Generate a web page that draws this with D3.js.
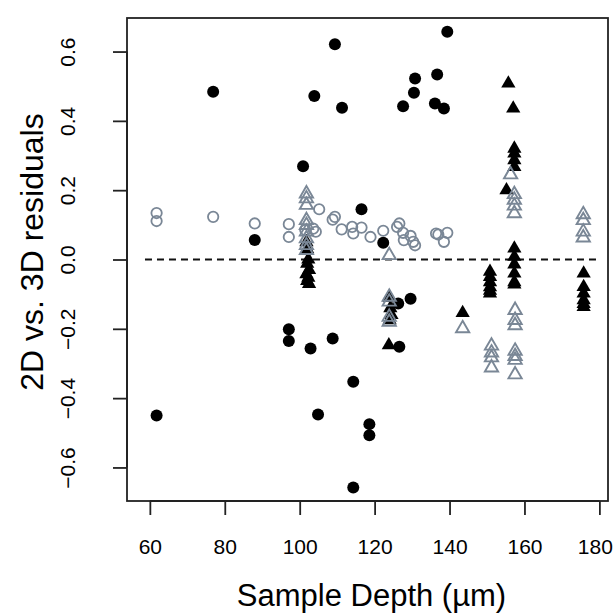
<!DOCTYPE html>
<html><head><meta charset="utf-8">
<script src="https://cdn.jsdelivr.net/npm/d3@7"></script>
<style>body{margin:0;background:#fff}svg{display:block}text{font-family:"Liberation Sans",Arial,sans-serif;fill:#000}</style>
</head><body>
<script>
// Filled black circles
const circ2x = [61.8,76.9,88.0,97.1,97.1,100.9,102.9,103.9,104.9,108.8,109.4,111.3,114.3,114.3,116.5,118.6,118.6,122.3,126.3,126.6,127.6,129.6,130.5,130.8,136.1,136.7,138.5,139.4];
const circ2y = [-0.45,0.484,0.056,-0.201,-0.235,0.269,-0.257,0.472,-0.447,-0.228,0.621,0.438,-0.353,-0.658,0.145,-0.475,-0.507,0.048,-0.127,-0.252,0.442,-0.113,0.481,0.522,0.450,0.534,0.436,0.657];
// Open gray circles
const circOx = [61.8,61.8,76.9,88.0,97.1,97.1,101.5,103.6,104.3,105.2,108.8,109.4,111.2,114.0,114.3,116.5,118.9,122.3,126.0,126.6,127.6,127.8,129.6,130.3,130.8,136.4,137.0,139.4,138.5];
const circOy = [0.134,0.111,0.123,0.104,0.102,0.065,0.085,0.089,0.080,0.145,0.115,0.123,0.087,0.094,0.075,0.092,0.065,0.083,0.094,0.104,0.077,0.056,0.068,0.051,0.041,0.075,0.072,0.077,0.051];
// Filled black triangles
const triFx = [101.8,102.0,102.3,102.0,102.5,101.8,102.3,102.0,102.5, 124.0,124.2,124.5,124.0,123.8, 143.5, 150.8,150.8,150.8,150.8,150.8,150.8, 155.7,157.0,157.3,157.3,157.3,157.3,155.2,157.3,157.3,157.3,157.3,157.3,157.3, 175.8,175.8,175.8,175.8,175.8,175.8];
const triFy = [0.05,0.03,0.0,-0.012,-0.03,-0.042,-0.052,-0.062,-0.07, -0.11,-0.14,-0.16,-0.175,-0.247, -0.154, -0.035,-0.05,-0.065,-0.08,-0.09,-0.098, 0.508,0.436,0.306,0.287,0.267,0.320,0.200,0.032,0.008,-0.014,-0.04,-0.065,-0.072, -0.04,-0.079,-0.098,-0.117,-0.128,-0.137];
// Open gray triangles
const triOx = [101.8,101.8,101.8,101.8,101.8,101.8,101.8,101.8,101.8, 123.9,123.9,123.9,123.9,123.9, 143.5, 151.2,151.2,151.2,151.2, 156.3,157.3,157.3,157.3,157.3, 157.5,157.5,157.5,157.5,157.5,157.5,157.5, 175.7,175.7,175.7,175.7];
const triOy = [0.19,0.176,0.157,0.113,0.099,0.080,0.061,0.041,0.027, 0.012,-0.108,-0.122,-0.166,-0.18, -0.199, -0.249,-0.269,-0.283,-0.312, 0.245,0.188,0.172,0.155,0.133, -0.146,-0.175,-0.19,-0.264,-0.279,-0.29,-0.332, 0.130,0.113,0.080,0.063];
const xTicks = [60,80,100,120,140,160,180];
const yTicks = [-0.6,-0.4,-0.2,0.0,0.2,0.4,0.6];
const xTitle = "Sample Depth (µm)";
const yTitle = "2D vs. 3D residuals";
const gray = "#7a8796";

const W=613,H=616;
const L=127,R=608,T=18,B=501;
const x = d3.scaleLinear().domain([53.9,182.3]).range([L,R]);
const y = d3.scaleLinear().domain([-0.6968,0.6968]).range([B,T]);
const svg = d3.select("body").append("svg").attr("width",W).attr("height",H);

svg.append("rect").attr("x",L).attr("y",T).attr("width",R-L).attr("height",B-T)
  .attr("fill","none").attr("stroke","#222").attr("stroke-width",1.8);

const xa = svg.append("g").attr("transform",`translate(0,${B})`)
  .call(d3.axisBottom(x).tickValues(xTicks).tickFormat(d3.format("d")).tickSize(14).tickPadding(24));
xa.select(".domain").attr("stroke","#222").attr("stroke-width",1.8).attr("d",`M${x(60)},0H${x(180)}`);
xa.selectAll(".tick line").attr("stroke","#222").attr("stroke-width",1.8);
xa.selectAll(".tick text").attr("font-size",21).attr("font-family","Liberation Sans, Arial, sans-serif").attr("fill","#111")
  .filter(d=>d===180).attr("text-anchor","end").attr("x",13);

const ya = svg.append("g").attr("transform",`translate(${L},0)`)
  .call(d3.axisLeft(y).tickValues(yTicks).tickFormat(d=>d3.format(".1f")(d).replace("-","\u2212")).tickSize(14));
ya.select(".domain").attr("stroke","#222").attr("stroke-width",1.8).attr("d",`M0,${y(-0.6)}V${y(0.6)}`);
ya.selectAll(".tick line").attr("stroke","#222").attr("stroke-width",1.8);
ya.selectAll(".tick text").attr("font-size",21).attr("font-family","Liberation Sans, Arial, sans-serif").attr("fill","#111")
  .attr("x",null).attr("dy",null).attr("text-anchor","middle")
  .attr("transform","translate(-52,0) rotate(-90)");

svg.append("text").attr("x",(L+R)/2+4).attr("y",606).attr("text-anchor","middle").attr("font-size",31).text(xTitle);
svg.append("text").attr("transform",`translate(43,252) rotate(-90)`).attr("text-anchor","middle").attr("font-size",32).text(yTitle);

// dashed zero line
svg.append("line").attr("x1",x(58.7)).attr("x2",x(180.2)).attr("y1",y(0)).attr("y2",y(0))
  .attr("stroke","#111").attr("stroke-width",2).attr("stroke-dasharray","7,5");

const tri = d3.symbol().type(d3.symbolTriangle).size(88);
const triO = d3.symbol().type(d3.symbolTriangle).size(76);

svg.append("g").selectAll("circle").data(d3.range(circ2x.length)).join("circle")
  .attr("cx",i=>x(circ2x[i])).attr("cy",i=>y(circ2y[i])).attr("r",6).attr("fill","#000");
svg.append("g").selectAll("circle").data(d3.range(circOx.length)).join("circle")
  .attr("cx",i=>x(circOx[i])).attr("cy",i=>y(circOy[i])).attr("r",5.2).attr("fill","none").attr("stroke",gray).attr("stroke-width",1.8);
svg.append("g").selectAll("path").data(d3.range(triFx.length)).join("path")
  .attr("d",tri).attr("transform",i=>`translate(${x(triFx[i])},${y(triFy[i])})`).attr("fill","#000");
svg.append("g").selectAll("path").data(d3.range(triOx.length)).join("path")
  .attr("d",triO).attr("transform",i=>`translate(${x(triOx[i])},${y(triOy[i])})`).attr("fill","none").attr("stroke",gray).attr("stroke-width",1.9);
</script>
</body></html>
